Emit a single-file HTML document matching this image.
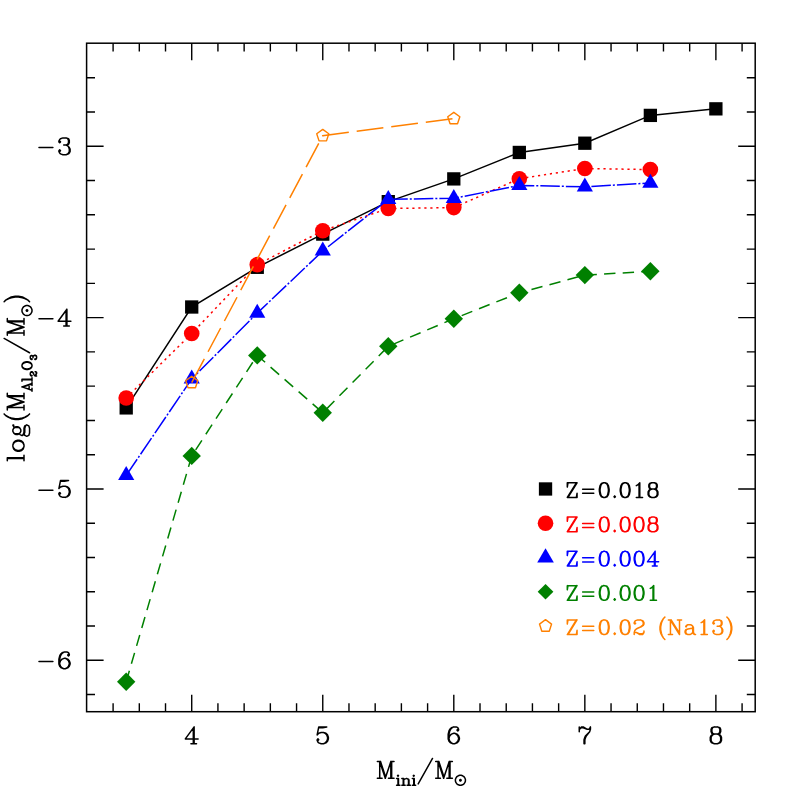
<!DOCTYPE html>
<html><head><meta charset="utf-8"><title>log(M_Al2O3/Msun) vs Mini/Msun</title>
<style>html,body{margin:0;padding:0;background:#fff;font-family:"Liberation Serif",serif;}svg{display:block}</style>
</head><body>
<svg width="797" height="797" viewBox="0 0 797 797">
<title>log(M_Al2O3/M_sun) versus M_ini/M_sun</title><desc>Series: Z=0.018, Z=0.008, Z=0.004, Z=0.001, Z=0.02 (Na13). X axis M_ini/M_sun 4 to 8; Y axis log(M_Al2O3/M_sun) -6 to -3.</desc>
<rect width="797" height="797" fill="#fff"/>
<path d="M113.1 711.7V703.3M113.1 43.2V51.6M139.31 711.7V703.3M139.31 43.2V51.6M165.52 711.7V703.3M165.52 43.2V51.6M191.72 711.7V694.7M191.72 43.2V60.2M217.93 711.7V703.3M217.93 43.2V51.6M244.14 711.7V703.3M244.14 43.2V51.6M270.35 711.7V703.3M270.35 43.2V51.6M296.56 711.7V703.3M296.56 43.2V51.6M322.76 711.7V694.7M322.76 43.2V60.2M348.97 711.7V703.3M348.97 43.2V51.6M375.18 711.7V703.3M375.18 43.2V51.6M401.39 711.7V703.3M401.39 43.2V51.6M427.6 711.7V703.3M427.6 43.2V51.6M453.8 711.7V694.7M453.8 43.2V60.2M480.01 711.7V703.3M480.01 43.2V51.6M506.22 711.7V703.3M506.22 43.2V51.6M532.43 711.7V703.3M532.43 43.2V51.6M558.64 711.7V703.3M558.64 43.2V51.6M584.84 711.7V694.7M584.84 43.2V60.2M611.05 711.7V703.3M611.05 43.2V51.6M637.26 711.7V703.3M637.26 43.2V51.6M663.47 711.7V703.3M663.47 43.2V51.6M689.68 711.7V703.3M689.68 43.2V51.6M715.88 711.7V694.7M715.88 43.2V60.2M742.09 711.7V703.3M742.09 43.2V51.6M86.6 694.57H95M755.2 694.57H746.8M86.6 660.31H103.6M755.2 660.31H738.2M86.6 626.04H95M755.2 626.04H746.8M86.6 591.77H95M755.2 591.77H746.8M86.6 557.5H95M755.2 557.5H746.8M86.6 523.23H95M755.2 523.23H746.8M86.6 488.97H103.6M755.2 488.97H738.2M86.6 454.7H95M755.2 454.7H746.8M86.6 420.43H95M755.2 420.43H746.8M86.6 386.16H95M755.2 386.16H746.8M86.6 351.89H95M755.2 351.89H746.8M86.6 317.63H103.6M755.2 317.63H738.2M86.6 283.36H95M755.2 283.36H746.8M86.6 249.09H95M755.2 249.09H746.8M86.6 214.82H95M755.2 214.82H746.8M86.6 180.55H95M755.2 180.55H746.8M86.6 146.29H103.6M755.2 146.29H738.2M86.6 112.02H95M755.2 112.02H746.8M86.6 77.75H95M755.2 77.75H746.8" stroke="#000" stroke-width="1.4" fill="none"/>
<rect x="86.6" y="43.2" width="668.6" height="668.5" fill="none" stroke="#000" stroke-width="1.5"/>
<path d="M126.2 407.9 L191.72 307 L257.24 267.3 L322.76 234.1 L388.28 201.65 L453.8 178.9 L519.32 152.45 L584.84 143.2 L650.36 115.4 L715.88 108.85" fill="none" stroke="#000000" stroke-width="1.5"/>
<rect x="119.55" y="401.25" width="13.3" height="13.3" fill="#000000"/>
<rect x="185.07" y="300.35" width="13.3" height="13.3" fill="#000000"/>
<rect x="250.59" y="260.65" width="13.3" height="13.3" fill="#000000"/>
<rect x="316.11" y="227.45" width="13.3" height="13.3" fill="#000000"/>
<rect x="381.63" y="195" width="13.3" height="13.3" fill="#000000"/>
<rect x="447.15" y="172.25" width="13.3" height="13.3" fill="#000000"/>
<rect x="512.67" y="145.8" width="13.3" height="13.3" fill="#000000"/>
<rect x="578.19" y="136.55" width="13.3" height="13.3" fill="#000000"/>
<rect x="643.71" y="108.75" width="13.3" height="13.3" fill="#000000"/>
<rect x="709.23" y="102.2" width="13.3" height="13.3" fill="#000000"/>
<path d="M126.2 398 L191.72 333.5 L257.24 264.65 L322.76 230.7 L388.28 208.5 L453.8 207.6 L519.32 178.7 L584.84 168.5 L650.36 169.6" fill="none" stroke="#ff0000" stroke-width="1.5" stroke-dasharray="2.2 3.8"/>
<circle cx="126.2" cy="398" r="7.8" fill="#ff0000"/>
<circle cx="191.72" cy="333.5" r="7.8" fill="#ff0000"/>
<circle cx="257.24" cy="264.65" r="7.8" fill="#ff0000"/>
<circle cx="322.76" cy="230.7" r="7.8" fill="#ff0000"/>
<circle cx="388.28" cy="208.5" r="7.8" fill="#ff0000"/>
<circle cx="453.8" cy="207.6" r="7.8" fill="#ff0000"/>
<circle cx="519.32" cy="178.7" r="7.8" fill="#ff0000"/>
<circle cx="584.84" cy="168.5" r="7.8" fill="#ff0000"/>
<circle cx="650.36" cy="169.6" r="7.8" fill="#ff0000"/>
<path d="M126.2 475.4 L191.72 378.9 L257.24 313.1 L322.76 250.9 L388.28 199.3 L453.8 198.3 L519.32 185.4 L584.84 186.8 L650.36 183.05" fill="none" stroke="#0000ff" stroke-width="1.5" stroke-dasharray="19.5 2 2 2.05"/>
<polygon points="126.2,466.05 134.3,480.07 118.11,480.07" fill="#0000ff"/>
<polygon points="191.72,369.55 199.82,383.57 183.63,383.57" fill="#0000ff"/>
<polygon points="257.24,303.75 265.34,317.78 249.15,317.78" fill="#0000ff"/>
<polygon points="322.76,241.55 330.86,255.58 314.67,255.58" fill="#0000ff"/>
<polygon points="388.28,189.95 396.38,203.98 380.19,203.98" fill="#0000ff"/>
<polygon points="453.8,188.95 461.9,202.98 445.71,202.98" fill="#0000ff"/>
<polygon points="519.32,176.05 527.42,190.08 511.23,190.08" fill="#0000ff"/>
<polygon points="584.84,177.45 592.94,191.48 576.75,191.48" fill="#0000ff"/>
<polygon points="650.36,173.7 658.46,187.73 642.27,187.73" fill="#0000ff"/>
<path d="M126.2 681.7 L191.72 455.9 L257.24 355.4 L322.76 412.8 L388.28 346.3 L453.8 318.7 L519.32 292.8 L584.84 275.1 L650.36 271.3" fill="none" stroke="#008000" stroke-width="1.5" stroke-dasharray="11.4 7.24"/>
<polygon points="126.2,672.5 135.4,681.7 126.2,690.9 117,681.7" fill="#008000"/>
<polygon points="191.72,446.7 200.92,455.9 191.72,465.1 182.52,455.9" fill="#008000"/>
<polygon points="257.24,346.2 266.44,355.4 257.24,364.6 248.04,355.4" fill="#008000"/>
<polygon points="322.76,403.6 331.96,412.8 322.76,422 313.56,412.8" fill="#008000"/>
<polygon points="388.28,337.1 397.48,346.3 388.28,355.5 379.08,346.3" fill="#008000"/>
<polygon points="453.8,309.5 463,318.7 453.8,327.9 444.6,318.7" fill="#008000"/>
<polygon points="519.32,283.6 528.52,292.8 519.32,302 510.12,292.8" fill="#008000"/>
<polygon points="584.84,265.9 594.04,275.1 584.84,284.3 575.64,275.1" fill="#008000"/>
<polygon points="650.36,262.1 659.56,271.3 650.36,280.5 641.16,271.3" fill="#008000"/>
<path d="M191.72 382.55 L322.76 135.74 L453.8 118.67" fill="none" stroke="#ff8000" stroke-width="1.5" stroke-dasharray="26.9 7.95"/>
<polygon points="191.72,376.2 197.76,380.59 195.46,387.69 187.99,387.69 185.68,380.59" fill="none" stroke="#ff8000" stroke-width="1.4" stroke-linejoin="round"/>
<polygon points="322.76,129.39 328.8,133.78 326.5,140.88 319.03,140.88 316.72,133.78" fill="none" stroke="#ff8000" stroke-width="1.4" stroke-linejoin="round"/>
<polygon points="453.8,112.32 459.84,116.71 457.54,123.81 450.07,123.81 447.76,116.71" fill="none" stroke="#ff8000" stroke-width="1.4" stroke-linejoin="round"/>
<rect x="538.88" y="482.32" width="13.3" height="13.3" fill="#000000"/>
<circle cx="545.53" cy="523.23" r="7.8" fill="#ff0000"/>
<polygon points="545.53,548.2 553.85,562.6 537.22,562.6" fill="#0000ff"/>
<polygon points="545.53,583.92 553.38,591.77 545.53,599.62 537.68,591.77" fill="#008000"/>
<polygon points="545.53,619.69 551.57,624.08 549.26,631.18 541.8,631.18 539.49,624.08" fill="none" stroke="#ff8000" stroke-width="1.4" stroke-linejoin="round"/>
<path d="M193.32 728.5 L193.32 743.7M194.12 726.9 L194.12 743.7M194.12 726.9 L185.32 738.9 L198.12 738.9M190.92 743.7 L196.52 743.7" fill="none" stroke="#000000" stroke-width="1.5" stroke-linecap="round" stroke-linejoin="round"/>
<path d="M318.76 726.9 L317.16 734.9M317.16 734.9 L318.76 733.3 L321.16 732.5 L323.56 732.5 L325.96 733.3 L327.56 734.9 L328.36 737.3 L328.36 738.9 L327.56 741.3 L325.96 742.9 L323.56 743.7 L321.16 743.7 L318.76 742.9 L317.96 742.1 L317.16 740.5 L317.16 739.7 L317.96 738.9 L318.76 739.7 L317.96 740.5M323.56 732.5 L325.16 733.3 L326.76 734.9 L327.56 737.3 L327.56 738.9 L326.76 741.3 L325.16 742.9 L323.56 743.7M318.76 726.9 L326.76 726.9M318.76 727.7 L322.76 727.7 L326.76 726.9" fill="none" stroke="#000000" stroke-width="1.5" stroke-linecap="round" stroke-linejoin="round"/>
<path d="M457.8 729.3 L457 730.1 L457.8 730.9 L458.6 730.1 L458.6 729.3 L457.8 727.7 L456.2 726.9 L453.8 726.9 L451.4 727.7 L449.8 729.3 L449 730.9 L448.2 734.1 L448.2 738.9 L449 741.3 L450.6 742.9 L453 743.7 L454.6 743.7 L457 742.9 L458.6 741.3 L459.4 738.9 L459.4 738.1 L458.6 735.7 L457 734.1 L454.6 733.3 L453.8 733.3 L451.4 734.1 L449.8 735.7 L449 738.1M453.8 726.9 L452.2 727.7 L450.6 729.3 L449.8 730.9 L449 734.1 L449 738.9 L449.8 741.3 L451.4 742.9 L453 743.7M454.6 743.7 L456.2 742.9 L457.8 741.3 L458.6 738.9 L458.6 738.1 L457.8 735.7 L456.2 734.1 L454.6 733.3" fill="none" stroke="#000000" stroke-width="1.5" stroke-linecap="round" stroke-linejoin="round"/>
<path d="M579.24 726.9 L579.24 731.7M579.24 730.1 L580.04 728.5 L581.64 726.9 L583.24 726.9 L587.24 729.3 L588.84 729.3 L589.64 728.5 L590.44 726.9M580.04 728.5 L581.64 727.7 L583.24 727.7 L587.24 729.3M590.44 726.9 L590.44 729.3 L589.64 731.7 L586.44 735.7 L585.64 737.3 L584.84 739.7 L584.84 743.7M589.64 731.7 L585.64 735.7 L584.84 737.3 L584.04 739.7 L584.04 743.7" fill="none" stroke="#000000" stroke-width="1.5" stroke-linecap="round" stroke-linejoin="round"/>
<path d="M714.28 726.9 L711.88 727.7 L711.08 729.3 L711.08 731.7 L711.88 733.3 L714.28 734.1 L717.48 734.1 L719.88 733.3 L720.68 731.7 L720.68 729.3 L719.88 727.7 L717.48 726.9 L714.28 726.9M714.28 726.9 L712.68 727.7 L711.88 729.3 L711.88 731.7 L712.68 733.3 L714.28 734.1M717.48 734.1 L719.08 733.3 L719.88 731.7 L719.88 729.3 L719.08 727.7 L717.48 726.9M714.28 734.1 L711.88 734.9 L711.08 735.7 L710.28 737.3 L710.28 740.5 L711.08 742.1 L711.88 742.9 L714.28 743.7 L717.48 743.7 L719.88 742.9 L720.68 742.1 L721.48 740.5 L721.48 737.3 L720.68 735.7 L719.88 734.9 L717.48 734.1M714.28 734.1 L712.68 734.9 L711.88 735.7 L711.08 737.3 L711.08 740.5 L711.88 742.1 L712.68 742.9 L714.28 743.7M717.48 743.7 L719.08 742.9 L719.88 742.1 L720.68 740.5 L720.68 737.3 L719.88 735.7 L719.08 734.9 L717.48 734.1" fill="none" stroke="#000000" stroke-width="1.5" stroke-linecap="round" stroke-linejoin="round"/>
<path d="M38.98 661.51 L52.9 661.51M68.5 654.31 L67.7 655.11 L68.5 655.91 L69.3 655.11 L69.3 654.31 L68.5 652.71 L66.9 651.91 L64.5 651.91 L62.1 652.71 L60.5 654.31 L59.7 655.91 L58.9 659.11 L58.9 663.91 L59.7 666.31 L61.3 667.91 L63.7 668.71 L65.3 668.71 L67.7 667.91 L69.3 666.31 L70.1 663.91 L70.1 663.11 L69.3 660.71 L67.7 659.11 L65.3 658.31 L64.5 658.31 L62.1 659.11 L60.5 660.71 L59.7 663.11M64.5 651.91 L62.9 652.71 L61.3 654.31 L60.5 655.91 L59.7 659.11 L59.7 663.91 L60.5 666.31 L62.1 667.91 L63.7 668.71M65.3 668.71 L66.9 667.91 L68.5 666.31 L69.3 663.91 L69.3 663.11 L68.5 660.71 L66.9 659.11 L65.3 658.31" fill="none" stroke="#000000" stroke-width="1.5" stroke-linecap="round" stroke-linejoin="round"/>
<path d="M38.98 490.17 L52.9 490.17M60.5 480.57 L58.9 488.57M58.9 488.57 L60.5 486.97 L62.9 486.17 L65.3 486.17 L67.7 486.97 L69.3 488.57 L70.1 490.97 L70.1 492.57 L69.3 494.97 L67.7 496.57 L65.3 497.37 L62.9 497.37 L60.5 496.57 L59.7 495.77 L58.9 494.17 L58.9 493.37 L59.7 492.57 L60.5 493.37 L59.7 494.17M65.3 486.17 L66.9 486.97 L68.5 488.57 L69.3 490.97 L69.3 492.57 L68.5 494.97 L66.9 496.57 L65.3 497.37M60.5 480.57 L68.5 480.57M60.5 481.37 L64.5 481.37 L68.5 480.57" fill="none" stroke="#000000" stroke-width="1.5" stroke-linecap="round" stroke-linejoin="round"/>
<path d="M38.98 318.83 L52.9 318.83M66.1 310.83 L66.1 326.03M66.9 309.23 L66.9 326.03M66.9 309.23 L58.1 321.23 L70.9 321.23M63.7 326.03 L69.3 326.03" fill="none" stroke="#000000" stroke-width="1.5" stroke-linecap="round" stroke-linejoin="round"/>
<path d="M38.98 147.49 L52.9 147.49M59.7 141.09 L60.5 141.89 L59.7 142.69 L58.9 141.89 L58.9 141.09 L59.7 139.49 L60.5 138.69 L62.9 137.89 L66.1 137.89 L68.5 138.69 L69.3 140.29 L69.3 142.69 L68.5 144.29 L66.1 145.09 L63.7 145.09M66.1 137.89 L67.7 138.69 L68.5 140.29 L68.5 142.69 L67.7 144.29 L66.1 145.09M66.1 145.09 L67.7 145.89 L69.3 147.49 L70.1 149.09 L70.1 151.49 L69.3 153.09 L68.5 153.89 L66.1 154.69 L62.9 154.69 L60.5 153.89 L59.7 153.09 L58.9 151.49 L58.9 150.69 L59.7 149.89 L60.5 150.69 L59.7 151.49M68.5 146.69 L69.3 149.09 L69.3 151.49 L68.5 153.09 L67.7 153.89 L66.1 154.69" fill="none" stroke="#000000" stroke-width="1.5" stroke-linecap="round" stroke-linejoin="round"/>
<path d="M576.35 482.83 L567.29 497.47M577.05 482.83 L567.99 497.47M567.99 482.83 L567.29 487.01 L567.29 482.83 L577.05 482.83M567.29 497.47 L577.05 497.47 L577.05 493.28 L576.35 497.47M582.62 489.17 L593.78 489.17M582.62 493.35 L593.78 493.35M603.54 482.83 L601.44 483.53 L600.05 485.62 L599.35 489.1 L599.35 491.19 L600.05 494.68 L601.44 496.77 L603.54 497.47 L604.93 497.47 L607.02 496.77 L608.41 494.68 L609.11 491.19 L609.11 489.1 L608.41 485.62 L607.02 483.53 L604.93 482.83 L603.54 482.83M603.54 482.83 L602.14 483.53 L601.44 484.22 L600.75 485.62 L600.05 489.1 L600.05 491.19 L600.75 494.68 L601.44 496.07 L602.14 496.77 L603.54 497.47M604.93 497.47 L606.32 496.77 L607.02 496.07 L607.72 494.68 L608.41 491.19 L608.41 489.1 L607.72 485.62 L607.02 484.22 L606.32 483.53 L604.93 482.83M614.69 496.07 L613.99 496.77 L614.69 497.47 L615.38 496.77 L614.69 496.07M624.45 482.83 L622.35 483.53 L620.96 485.62 L620.26 489.1 L620.26 491.19 L620.96 494.68 L622.35 496.77 L624.45 497.47 L625.84 497.47 L627.93 496.77 L629.32 494.68 L630.02 491.19 L630.02 489.1 L629.32 485.62 L627.93 483.53 L625.84 482.83 L624.45 482.83M624.45 482.83 L623.05 483.53 L622.35 484.22 L621.66 485.62 L620.96 489.1 L620.96 491.19 L621.66 494.68 L622.35 496.07 L623.05 496.77 L624.45 497.47M625.84 497.47 L627.23 496.77 L627.93 496.07 L628.63 494.68 L629.32 491.19 L629.32 489.1 L628.63 485.62 L627.93 484.22 L627.23 483.53 L625.84 482.83M636.29 485.62 L637.69 484.92 L639.78 482.83 L639.78 497.47M639.08 483.53 L639.08 497.47M636.29 497.47 L642.57 497.47M651.63 482.83 L649.54 483.53 L648.84 484.92 L648.84 487.01 L649.54 488.41 L651.63 489.1 L654.42 489.1 L656.51 488.41 L657.2 487.01 L657.2 484.92 L656.51 483.53 L654.42 482.83 L651.63 482.83M651.63 482.83 L650.23 483.53 L649.54 484.92 L649.54 487.01 L650.23 488.41 L651.63 489.1M654.42 489.1 L655.81 488.41 L656.51 487.01 L656.51 484.92 L655.81 483.53 L654.42 482.83M651.63 489.1 L649.54 489.8 L648.84 490.5 L648.14 491.89 L648.14 494.68 L648.84 496.07 L649.54 496.77 L651.63 497.47 L654.42 497.47 L656.51 496.77 L657.2 496.07 L657.9 494.68 L657.9 491.89 L657.2 490.5 L656.51 489.8 L654.42 489.1M651.63 489.1 L650.23 489.8 L649.54 490.5 L648.84 491.89 L648.84 494.68 L649.54 496.07 L650.23 496.77 L651.63 497.47M654.42 497.47 L655.81 496.77 L656.51 496.07 L657.2 494.68 L657.2 491.89 L656.51 490.5 L655.81 489.8 L654.42 489.1" fill="none" stroke="#000000" stroke-width="1.5" stroke-linecap="round" stroke-linejoin="round"/>
<path d="M576.35 517.1 L567.29 531.73M577.05 517.1 L567.99 531.73M567.99 517.1 L567.29 521.28 L567.29 517.1 L577.05 517.1M567.29 531.73 L577.05 531.73 L577.05 527.55 L576.35 531.73M582.62 523.44 L593.78 523.44M582.62 527.62 L593.78 527.62M603.54 517.1 L601.44 517.79 L600.05 519.88 L599.35 523.37 L599.35 525.46 L600.05 528.95 L601.44 531.04 L603.54 531.73 L604.93 531.73 L607.02 531.04 L608.41 528.95 L609.11 525.46 L609.11 523.37 L608.41 519.88 L607.02 517.79 L604.93 517.1 L603.54 517.1M603.54 517.1 L602.14 517.79 L601.44 518.49 L600.75 519.88 L600.05 523.37 L600.05 525.46 L600.75 528.95 L601.44 530.34 L602.14 531.04 L603.54 531.73M604.93 531.73 L606.32 531.04 L607.02 530.34 L607.72 528.95 L608.41 525.46 L608.41 523.37 L607.72 519.88 L607.02 518.49 L606.32 517.79 L604.93 517.1M614.69 530.34 L613.99 531.04 L614.69 531.73 L615.38 531.04 L614.69 530.34M624.45 517.1 L622.35 517.79 L620.96 519.88 L620.26 523.37 L620.26 525.46 L620.96 528.95 L622.35 531.04 L624.45 531.73 L625.84 531.73 L627.93 531.04 L629.32 528.95 L630.02 525.46 L630.02 523.37 L629.32 519.88 L627.93 517.79 L625.84 517.1 L624.45 517.1M624.45 517.1 L623.05 517.79 L622.35 518.49 L621.66 519.88 L620.96 523.37 L620.96 525.46 L621.66 528.95 L622.35 530.34 L623.05 531.04 L624.45 531.73M625.84 531.73 L627.23 531.04 L627.93 530.34 L628.63 528.95 L629.32 525.46 L629.32 523.37 L628.63 519.88 L627.93 518.49 L627.23 517.79 L625.84 517.1M638.38 517.1 L636.29 517.79 L634.9 519.88 L634.2 523.37 L634.2 525.46 L634.9 528.95 L636.29 531.04 L638.38 531.73 L639.78 531.73 L641.87 531.04 L643.26 528.95 L643.96 525.46 L643.96 523.37 L643.26 519.88 L641.87 517.79 L639.78 517.1 L638.38 517.1M638.38 517.1 L636.99 517.79 L636.29 518.49 L635.6 519.88 L634.9 523.37 L634.9 525.46 L635.6 528.95 L636.29 530.34 L636.99 531.04 L638.38 531.73M639.78 531.73 L641.17 531.04 L641.87 530.34 L642.57 528.95 L643.26 525.46 L643.26 523.37 L642.57 519.88 L641.87 518.49 L641.17 517.79 L639.78 517.1M651.63 517.1 L649.54 517.79 L648.84 519.19 L648.84 521.28 L649.54 522.67 L651.63 523.37 L654.42 523.37 L656.51 522.67 L657.2 521.28 L657.2 519.19 L656.51 517.79 L654.42 517.1 L651.63 517.1M651.63 517.1 L650.23 517.79 L649.54 519.19 L649.54 521.28 L650.23 522.67 L651.63 523.37M654.42 523.37 L655.81 522.67 L656.51 521.28 L656.51 519.19 L655.81 517.79 L654.42 517.1M651.63 523.37 L649.54 524.07 L648.84 524.76 L648.14 526.16 L648.14 528.95 L648.84 530.34 L649.54 531.04 L651.63 531.73 L654.42 531.73 L656.51 531.04 L657.2 530.34 L657.9 528.95 L657.9 526.16 L657.2 524.76 L656.51 524.07 L654.42 523.37M651.63 523.37 L650.23 524.07 L649.54 524.76 L648.84 526.16 L648.84 528.95 L649.54 530.34 L650.23 531.04 L651.63 531.73M654.42 531.73 L655.81 531.04 L656.51 530.34 L657.2 528.95 L657.2 526.16 L656.51 524.76 L655.81 524.07 L654.42 523.37" fill="none" stroke="#ff0000" stroke-width="1.5" stroke-linecap="round" stroke-linejoin="round"/>
<path d="M576.35 551.37 L567.29 566M577.05 551.37 L567.99 566M567.99 551.37 L567.29 555.55 L567.29 551.37 L577.05 551.37M567.29 566 L577.05 566 L577.05 561.82 L576.35 566M582.62 557.71 L593.78 557.71M582.62 561.89 L593.78 561.89M603.54 551.37 L601.44 552.06 L600.05 554.15 L599.35 557.64 L599.35 559.73 L600.05 563.21 L601.44 565.31 L603.54 566 L604.93 566 L607.02 565.31 L608.41 563.21 L609.11 559.73 L609.11 557.64 L608.41 554.15 L607.02 552.06 L604.93 551.37 L603.54 551.37M603.54 551.37 L602.14 552.06 L601.44 552.76 L600.75 554.15 L600.05 557.64 L600.05 559.73 L600.75 563.21 L601.44 564.61 L602.14 565.31 L603.54 566M604.93 566 L606.32 565.31 L607.02 564.61 L607.72 563.21 L608.41 559.73 L608.41 557.64 L607.72 554.15 L607.02 552.76 L606.32 552.06 L604.93 551.37M614.69 564.61 L613.99 565.31 L614.69 566 L615.38 565.31 L614.69 564.61M624.45 551.37 L622.35 552.06 L620.96 554.15 L620.26 557.64 L620.26 559.73 L620.96 563.21 L622.35 565.31 L624.45 566 L625.84 566 L627.93 565.31 L629.32 563.21 L630.02 559.73 L630.02 557.64 L629.32 554.15 L627.93 552.06 L625.84 551.37 L624.45 551.37M624.45 551.37 L623.05 552.06 L622.35 552.76 L621.66 554.15 L620.96 557.64 L620.96 559.73 L621.66 563.21 L622.35 564.61 L623.05 565.31 L624.45 566M625.84 566 L627.23 565.31 L627.93 564.61 L628.63 563.21 L629.32 559.73 L629.32 557.64 L628.63 554.15 L627.93 552.76 L627.23 552.06 L625.84 551.37M638.38 551.37 L636.29 552.06 L634.9 554.15 L634.2 557.64 L634.2 559.73 L634.9 563.21 L636.29 565.31 L638.38 566 L639.78 566 L641.87 565.31 L643.26 563.21 L643.96 559.73 L643.96 557.64 L643.26 554.15 L641.87 552.06 L639.78 551.37 L638.38 551.37M638.38 551.37 L636.99 552.06 L636.29 552.76 L635.6 554.15 L634.9 557.64 L634.9 559.73 L635.6 563.21 L636.29 564.61 L636.99 565.31 L638.38 566M639.78 566 L641.17 565.31 L641.87 564.61 L642.57 563.21 L643.26 559.73 L643.26 557.64 L642.57 554.15 L641.87 552.76 L641.17 552.06 L639.78 551.37M654.42 552.76 L654.42 566M655.11 551.37 L655.11 566M655.11 551.37 L647.45 561.82 L658.6 561.82M652.33 566 L657.2 566" fill="none" stroke="#0000ff" stroke-width="1.5" stroke-linecap="round" stroke-linejoin="round"/>
<path d="M576.35 585.63 L567.29 600.27M577.05 585.63 L567.99 600.27M567.99 585.63 L567.29 589.81 L567.29 585.63 L577.05 585.63M567.29 600.27 L577.05 600.27 L577.05 596.09 L576.35 600.27M582.62 591.98 L593.78 591.98M582.62 596.16 L593.78 596.16M603.54 585.63 L601.44 586.33 L600.05 588.42 L599.35 591.91 L599.35 594 L600.05 597.48 L601.44 599.57 L603.54 600.27 L604.93 600.27 L607.02 599.57 L608.41 597.48 L609.11 594 L609.11 591.91 L608.41 588.42 L607.02 586.33 L604.93 585.63 L603.54 585.63M603.54 585.63 L602.14 586.33 L601.44 587.03 L600.75 588.42 L600.05 591.91 L600.05 594 L600.75 597.48 L601.44 598.88 L602.14 599.57 L603.54 600.27M604.93 600.27 L606.32 599.57 L607.02 598.88 L607.72 597.48 L608.41 594 L608.41 591.91 L607.72 588.42 L607.02 587.03 L606.32 586.33 L604.93 585.63M614.69 598.88 L613.99 599.57 L614.69 600.27 L615.38 599.57 L614.69 598.88M624.45 585.63 L622.35 586.33 L620.96 588.42 L620.26 591.91 L620.26 594 L620.96 597.48 L622.35 599.57 L624.45 600.27 L625.84 600.27 L627.93 599.57 L629.32 597.48 L630.02 594 L630.02 591.91 L629.32 588.42 L627.93 586.33 L625.84 585.63 L624.45 585.63M624.45 585.63 L623.05 586.33 L622.35 587.03 L621.66 588.42 L620.96 591.91 L620.96 594 L621.66 597.48 L622.35 598.88 L623.05 599.57 L624.45 600.27M625.84 600.27 L627.23 599.57 L627.93 598.88 L628.63 597.48 L629.32 594 L629.32 591.91 L628.63 588.42 L627.93 587.03 L627.23 586.33 L625.84 585.63M638.38 585.63 L636.29 586.33 L634.9 588.42 L634.2 591.91 L634.2 594 L634.9 597.48 L636.29 599.57 L638.38 600.27 L639.78 600.27 L641.87 599.57 L643.26 597.48 L643.96 594 L643.96 591.91 L643.26 588.42 L641.87 586.33 L639.78 585.63 L638.38 585.63M638.38 585.63 L636.99 586.33 L636.29 587.03 L635.6 588.42 L634.9 591.91 L634.9 594 L635.6 597.48 L636.29 598.88 L636.99 599.57 L638.38 600.27M639.78 600.27 L641.17 599.57 L641.87 598.88 L642.57 597.48 L643.26 594 L643.26 591.91 L642.57 588.42 L641.87 587.03 L641.17 586.33 L639.78 585.63M650.23 588.42 L651.63 587.72 L653.72 585.63 L653.72 600.27M653.02 586.33 L653.02 600.27M650.23 600.27 L656.51 600.27" fill="none" stroke="#008000" stroke-width="1.5" stroke-linecap="round" stroke-linejoin="round"/>
<path d="M576.35 619.9 L567.29 634.54M577.05 619.9 L567.99 634.54M567.99 619.9 L567.29 624.08 L567.29 619.9 L577.05 619.9M567.29 634.54 L577.05 634.54 L577.05 630.36 L576.35 634.54M582.62 626.24 L593.78 626.24M582.62 630.43 L593.78 630.43M603.54 619.9 L601.44 620.6 L600.05 622.69 L599.35 626.17 L599.35 628.26 L600.05 631.75 L601.44 633.84 L603.54 634.54 L604.93 634.54 L607.02 633.84 L608.41 631.75 L609.11 628.26 L609.11 626.17 L608.41 622.69 L607.02 620.6 L604.93 619.9 L603.54 619.9M603.54 619.9 L602.14 620.6 L601.44 621.29 L600.75 622.69 L600.05 626.17 L600.05 628.26 L600.75 631.75 L601.44 633.14 L602.14 633.84 L603.54 634.54M604.93 634.54 L606.32 633.84 L607.02 633.14 L607.72 631.75 L608.41 628.26 L608.41 626.17 L607.72 622.69 L607.02 621.29 L606.32 620.6 L604.93 619.9M614.69 633.14 L613.99 633.84 L614.69 634.54 L615.38 633.84 L614.69 633.14M624.45 619.9 L622.35 620.6 L620.96 622.69 L620.26 626.17 L620.26 628.26 L620.96 631.75 L622.35 633.84 L624.45 634.54 L625.84 634.54 L627.93 633.84 L629.32 631.75 L630.02 628.26 L630.02 626.17 L629.32 622.69 L627.93 620.6 L625.84 619.9 L624.45 619.9M624.45 619.9 L623.05 620.6 L622.35 621.29 L621.66 622.69 L620.96 626.17 L620.96 628.26 L621.66 631.75 L622.35 633.14 L623.05 633.84 L624.45 634.54M625.84 634.54 L627.23 633.84 L627.93 633.14 L628.63 631.75 L629.32 628.26 L629.32 626.17 L628.63 622.69 L627.93 621.29 L627.23 620.6 L625.84 619.9M634.9 622.69 L635.6 623.39 L634.9 624.08 L634.2 623.39 L634.2 622.69 L634.9 621.29 L635.6 620.6 L637.69 619.9 L640.48 619.9 L642.57 620.6 L643.26 621.29 L643.96 622.69 L643.96 624.08 L643.26 625.48 L641.17 626.87 L637.69 628.26 L636.29 628.96 L634.9 630.36 L634.2 632.45 L634.2 634.54M640.48 619.9 L641.87 620.6 L642.57 621.29 L643.26 622.69 L643.26 624.08 L642.57 625.48 L640.48 626.87 L637.69 628.26M634.2 633.14 L634.9 632.45 L636.29 632.45 L639.78 633.84 L641.87 633.84 L643.26 633.14 L643.96 632.45M636.29 632.45 L639.78 634.54 L642.57 634.54 L643.26 633.84 L643.96 632.45 L643.96 631.05M664.87 617.11 L663.48 618.51 L662.08 620.6 L660.69 623.39 L659.99 626.87 L659.99 629.66 L660.69 633.14 L662.08 635.93 L663.48 638.02 L664.87 639.42M663.48 618.51 L662.08 621.29 L661.39 623.39 L660.69 626.87 L660.69 629.66 L661.39 633.14 L662.08 635.24 L663.48 638.02M670.45 619.9 L670.45 634.54M671.14 619.9 L679.51 633.14M671.14 621.29 L679.51 634.54M679.51 619.9 L679.51 634.54M668.36 619.9 L671.14 619.9M677.42 619.9 L681.6 619.9M668.36 634.54 L672.54 634.54M686.48 626.17 L686.48 626.87 L685.78 626.87 L685.78 626.17 L686.48 625.48 L687.87 624.78 L690.66 624.78 L692.05 625.48 L692.75 626.17 L693.45 627.57 L693.45 632.45 L694.14 633.84 L694.84 634.54M692.75 626.17 L692.75 632.45 L693.45 633.84 L694.84 634.54 L695.54 634.54M692.75 627.57 L692.05 628.26 L687.87 628.96 L685.78 629.66 L685.08 631.05 L685.08 632.45 L685.78 633.84 L687.87 634.54 L689.96 634.54 L691.36 633.84 L692.75 632.45M687.87 628.96 L686.48 629.66 L685.78 631.05 L685.78 632.45 L686.48 633.84 L687.87 634.54M701.12 622.69 L702.51 621.99 L704.6 619.9 L704.6 634.54M703.9 620.6 L703.9 634.54M701.12 634.54 L707.39 634.54M713.66 622.69 L714.36 623.39 L713.66 624.08 L712.96 623.39 L712.96 622.69 L713.66 621.29 L714.36 620.6 L716.45 619.9 L719.24 619.9 L721.33 620.6 L722.02 621.99 L722.02 624.08 L721.33 625.48 L719.24 626.17 L717.15 626.17M719.24 619.9 L720.63 620.6 L721.33 621.99 L721.33 624.08 L720.63 625.48 L719.24 626.17M719.24 626.17 L720.63 626.87 L722.02 628.26 L722.72 629.66 L722.72 631.75 L722.02 633.14 L721.33 633.84 L719.24 634.54 L716.45 634.54 L714.36 633.84 L713.66 633.14 L712.96 631.75 L712.96 631.05 L713.66 630.36 L714.36 631.05 L713.66 631.75M721.33 627.57 L722.02 629.66 L722.02 631.75 L721.33 633.14 L720.63 633.84 L719.24 634.54M726.9 617.11 L728.3 618.51 L729.69 620.6 L731.09 623.39 L731.78 626.87 L731.78 629.66 L731.09 633.14 L729.69 635.93 L728.3 638.02 L726.9 639.42M728.3 618.51 L729.69 621.29 L730.39 623.39 L731.09 626.87 L731.09 629.66 L730.39 633.14 L729.69 635.24 L728.3 638.02" fill="none" stroke="#ff8000" stroke-width="1.5" stroke-linecap="round" stroke-linejoin="round"/>
<path d="M379.72 761.6 L379.72 778.3M380.52 761.6 L385.29 775.91M379.72 761.6 L385.29 778.3M390.85 761.6 L385.29 778.3M390.85 761.6 L390.85 778.3M391.65 761.6 L391.65 778.3M377.34 761.6 L380.52 761.6M390.85 761.6 L394.03 761.6M377.34 778.3 L382.11 778.3M388.47 778.3 L394.03 778.3M398.01 775.28 L397.53 775.76 L398.01 776.23 L398.48 775.76 L398.01 775.28M398.01 778.62 L398.01 785.3M398.48 778.62 L398.48 785.3M396.58 778.62 L398.48 778.62M396.58 785.3 L399.91 785.3M403.25 778.62 L403.25 785.3M403.73 778.62 L403.73 785.3M403.73 780.05 L404.68 779.09 L406.12 778.62 L407.07 778.62 L408.5 779.09 L408.98 780.05 L408.98 785.3M407.07 778.62 L408.02 779.09 L408.5 780.05 L408.5 785.3M401.82 778.62 L403.73 778.62M401.82 785.3 L405.16 785.3M407.07 785.3 L410.41 785.3M413.75 775.28 L413.27 775.76 L413.75 776.23 L414.22 775.76 L413.75 775.28M413.75 778.62 L413.75 785.3M414.22 778.62 L414.22 785.3M412.32 778.62 L414.22 778.62M412.32 785.3 L415.66 785.3M432.51 758.42 L418.2 783.87M438.07 761.6 L438.07 778.3M438.87 761.6 L443.64 775.91M438.07 761.6 L443.64 778.3M449.2 761.6 L443.64 778.3M449.2 761.6 L449.2 778.3M450 761.6 L450 778.3M435.69 761.6 L438.87 761.6M449.2 761.6 L452.38 761.6M435.69 778.3 L440.46 778.3M446.82 778.3 L452.38 778.3M459.7 775.28 L458.27 775.76 L456.84 776.71 L455.88 778.14 L455.41 779.57 L455.41 781 L455.88 782.43 L456.84 783.87 L458.27 784.82 L459.7 785.3 L461.13 785.3 L462.56 784.82 L463.99 783.87 L464.95 782.43 L465.42 781 L465.42 779.57 L464.95 778.14 L463.99 776.71 L462.56 775.76 L461.13 775.28 L459.7 775.28M460.18 779.57 L459.7 780.05 L459.7 780.53 L460.18 781 L460.65 781 L461.13 780.53 L461.13 780.05 L460.65 779.57 L460.18 779.57M460.18 780.05 L460.18 780.53 L460.65 780.53 L460.65 780.05 L460.18 780.05" fill="none" stroke="#000000" stroke-width="1.5" stroke-linecap="round" stroke-linejoin="round"/>
<path d="M7.3 458.44 L24 458.44M7.3 457.65 L24 457.65M7.3 460.83 L7.3 457.65M24 460.83 L24 455.26M12.87 446.52 L13.66 448.9 L15.25 450.49 L17.64 451.29 L19.23 451.29 L21.61 450.49 L23.2 448.9 L24 446.52 L24 444.93 L23.2 442.54 L21.61 440.95 L19.23 440.16 L17.64 440.16 L15.25 440.95 L13.66 442.54 L12.87 444.93 L12.87 446.52M12.87 446.52 L13.66 448.11 L15.25 449.7 L17.64 450.49 L19.23 450.49 L21.61 449.7 L23.2 448.11 L24 446.52M24 444.93 L23.2 443.34 L21.61 441.75 L19.23 440.95 L17.64 440.95 L15.25 441.75 L13.66 443.34 L12.87 444.93M12.87 431.41 L13.66 433 L14.46 433.8 L16.05 434.59 L17.64 434.59 L19.23 433.8 L20.02 433 L20.82 431.41 L20.82 429.82 L20.02 428.23 L19.23 427.44 L17.64 426.64 L16.05 426.64 L14.46 427.44 L13.66 428.23 L12.87 429.82 L12.87 431.41M13.66 433 L15.25 433.8 L18.43 433.8 L20.02 433M20.02 428.23 L18.43 427.44 L15.25 427.44 L13.66 428.23M14.46 427.44 L13.66 426.64 L12.87 425.05 L13.66 425.05 L13.66 426.64M19.23 433.8 L20.02 434.59 L21.61 435.39 L22.41 435.39 L24 434.59 L24.79 432.21 L24.79 428.23 L25.59 425.85 L26.38 425.05M22.41 435.39 L23.2 434.59 L24 432.21 L24 428.23 L24.79 425.85 L26.38 425.05 L27.18 425.05 L28.77 425.85 L29.56 428.23 L29.56 433 L28.77 435.39 L27.18 436.18 L26.38 436.18 L24.79 435.39 L24 433M4.12 413.92 L5.71 415.51 L8.1 417.1 L11.28 418.69 L15.25 419.49 L18.43 419.49 L22.41 418.69 L25.59 417.1 L27.97 415.51 L29.56 413.92M5.71 415.51 L8.89 417.1 L11.28 417.9 L15.25 418.69 L18.43 418.69 L22.41 417.9 L24.79 417.1 L27.97 415.51M7.3 407.56 L24 407.56M7.3 406.77 L21.61 402M7.3 407.56 L24 402M7.3 396.43 L24 402M7.3 396.43 L24 396.43M7.3 395.64 L24 395.64M7.3 409.95 L7.3 406.77M7.3 396.43 L7.3 393.25M24 409.95 L24 405.18M24 398.82 L24 393.25M21.98 386.89 L32 390.23M21.98 386.89 L32 383.55M23.41 386.89 L32 384.03M29.13 389.28 L29.13 384.98M32 391.18 L32 388.32M32 385.46 L32 382.6M21.98 379.74 L32 379.74M21.98 379.26 L32 379.26M21.98 381.17 L21.98 379.26M32 381.17 L32 377.83M31.48 375.67 L31.79 375.37 L32.09 375.67 L31.79 375.97 L31.48 375.97 L30.88 375.67 L30.58 375.37 L30.28 374.47 L30.28 373.27 L30.58 372.37 L30.88 372.07 L31.48 371.76 L32.09 371.76 L32.69 372.07 L33.29 372.97 L33.89 374.47 L34.19 375.07 L34.79 375.67 L35.69 375.97 L36.59 375.97M30.28 373.27 L30.58 372.67 L30.88 372.37 L31.48 372.07 L32.09 372.07 L32.69 372.37 L33.29 373.27 L33.89 374.47M35.99 375.97 L35.69 375.67 L35.69 375.07 L36.29 373.57 L36.29 372.67 L35.99 372.07 L35.69 371.76M35.69 375.07 L36.59 373.57 L36.59 372.37 L36.29 372.07 L35.69 371.76 L35.09 371.76M21.98 366.09 L22.46 367.52 L23.41 368.48 L24.36 368.95 L26.27 369.43 L27.7 369.43 L29.61 368.95 L30.57 368.48 L31.52 367.52 L32 366.09 L32 365.14 L31.52 363.71 L30.57 362.75 L29.61 362.28 L27.7 361.8 L26.27 361.8 L24.36 362.28 L23.41 362.75 L22.46 363.71 L21.98 365.14 L21.98 366.09M21.98 366.09 L22.46 367.05 L23.41 368 L24.36 368.48 L26.27 368.95 L27.7 368.95 L29.61 368.48 L30.57 368 L31.52 367.05 L32 366.09M32 365.14 L31.52 364.19 L30.57 363.23 L29.61 362.75 L27.7 362.28 L26.27 362.28 L24.36 362.75 L23.41 363.23 L22.46 364.19 L21.98 365.14M31.48 359.17 L31.79 358.87 L32.09 359.17 L31.79 359.47 L31.48 359.47 L30.88 359.17 L30.58 358.87 L30.28 357.96 L30.28 356.76 L30.58 355.86 L31.18 355.56 L32.09 355.56 L32.69 355.86 L32.99 356.76 L32.99 357.66M30.28 356.76 L30.58 356.16 L31.18 355.86 L32.09 355.86 L32.69 356.16 L32.99 356.76M32.99 356.76 L33.29 356.16 L33.89 355.56 L34.49 355.26 L35.39 355.26 L35.99 355.56 L36.29 355.86 L36.59 356.76 L36.59 357.96 L36.29 358.87 L35.99 359.17 L35.39 359.47 L35.09 359.47 L34.79 359.17 L35.09 358.87 L35.39 359.17M33.59 355.86 L34.49 355.56 L35.39 355.56 L35.99 355.86 L36.29 356.16 L36.59 356.76M4.13 338.46 L29.57 352.77M7.31 332.89 L24 332.89M7.31 332.1 L21.62 327.33M7.31 332.89 L24 327.33M7.31 321.76 L24 327.33M7.31 321.76 L24 321.76M7.31 320.97 L24 320.97M7.31 335.28 L7.31 332.1M7.31 321.76 L7.31 318.58M24 335.28 L24 330.51M24 324.15 L24 318.58M21.98 311.27 L22.46 312.7 L23.41 314.13 L24.84 315.09 L26.27 315.56 L27.7 315.56 L29.13 315.09 L30.57 314.13 L31.52 312.7 L32 311.27 L32 309.84 L31.52 308.41 L30.57 306.98 L29.13 306.02 L27.7 305.55 L26.27 305.55 L24.84 306.02 L23.41 306.98 L22.46 308.41 L21.98 309.84 L21.98 311.27M26.27 310.79 L26.75 311.27 L27.23 311.27 L27.7 310.79 L27.7 310.32 L27.23 309.84 L26.75 309.84 L26.27 310.32 L26.27 310.79M26.75 310.79 L27.23 310.79 L27.23 310.32 L26.75 310.32 L26.75 310.79M4.13 301.73 L5.72 300.14 L8.1 298.55 L11.28 296.96 L15.26 296.16 L18.44 296.16 L22.41 296.96 L25.59 298.55 L27.98 300.14 L29.57 301.73M5.72 300.14 L8.9 298.55 L11.28 297.75 L15.26 296.96 L18.44 296.96 L22.41 297.75 L24.8 298.55 L27.98 300.14" fill="none" stroke="#000000" stroke-width="1.5" stroke-linecap="round" stroke-linejoin="round"/>
</svg>
</body></html>
